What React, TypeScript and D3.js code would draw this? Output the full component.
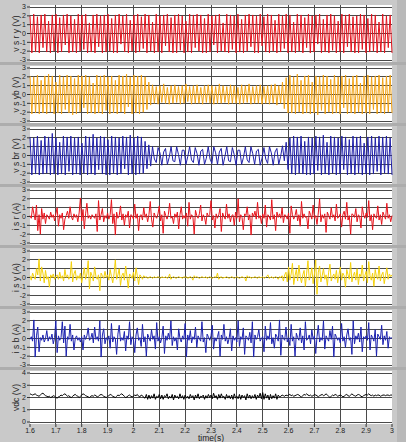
import React from "react";
import * as d3 from "d3";

// Time axis of every trace (seconds); samples are evenly spaced across it.
const T_START = 1.6;
const T_END = 3.0;
const X_TICKS = [1.6, 1.7, 1.8, 1.9, 2.0, 2.1, 2.2, 2.3, 2.4, 2.5, 2.6, 2.7, 2.8, 2.9, 3.0];
const Y_TICKS_PM3 = [3, 2, 1, 0, -1, -2, -3];
const Y_TICKS_VDC = [4, 3, 2, 1, 0];

const LABELS = ["v s r y (V)", "v s yb (V)", "v s br (V)", "i s r (A)", "i s y (A)", "i s b (A)", "vdc (V)"];

// Line voltage r-y
const vsry = [
  2.0,-2.2,2.2,-2.1,1.9,-2.2,2.1,-1.6,2.2,-2.1,
  1.4,-2.2,2.1,-2.0,2.2,-2.2,1.8,-2.1,2.1,-1.3,
  2.2,-2.2,2.0,-2.1,1.6,-2.2,2.2,-2.0,2.1,-1.8,
  2.2,-2.2,1.2,-2.1,2.1,-2.2,2.2,-1.5,2.0,-2.2,
  2.1,-2.1,2.2,-2.0,1.7,-2.2,2.1,-2.2,2.2,-1.2,
  2.0,-2.1,2.2,-2.2,1.5,-2.0,2.1,-2.2,2.2,-2.1,
  1.9,-1.7,2.2,-2.2,2.1,-2.0,1.3,-2.2,2.2,-2.1,
  2.0,-2.2,2.1,-1.4,2.2,-2.1,1.8,-2.2,2.1,-2.2,
  2.2,-1.9,2.0,-2.2,1.4,-2.1,2.2,-2.2,2.1,-1.6,
  2.2,-2.0,2.1,-2.2,1.7,-2.2,2.2,-2.1,2.0,-1.3,
  2.1,-2.2,2.2,-2.0,1.2,-2.1,2.2,-2.2,2.1,-1.8,
  2.0,-2.2,2.2,-2.1,1.6,-2.2,2.1,-2.0,2.2,-1.5,
  2.1,-2.2,2.0,-2.2,2.2,-1.4,1.9,-2.1,2.2,-2.2,
  2.1,-2.0,1.5,-2.2,2.2,-2.1,2.0,-1.7,2.2,-2.2,
  2.1,-2.1,1.3,-2.2,2.2,-2.0,2.1,-2.2,1.8,-1.6,
  2.2,-2.2,2.0,-2.1,2.1,-1.2,2.2,-2.2,1.6,-2.1,
  2.1,-2.2,2.2,-1.9,2.0,-2.2,1.4,-2.1,2.2,-2.2,
  2.1,-1.5,2.2,-2.1,1.9,-2.2,2.0,-2.2,2.2,-1.8,
  2.1,-2.2,1.7,-2.1,2.2,-2.0,2.1,-2.2,1.3,-2.1,
  2.2,-2.2,2.0,-1.6,2.1,-2.2,
];

// Line voltage y-b (sags between ~2.05 s and ~2.59 s)
const vsyb = [
  2.1,-2.2,2.0,-2.1,2.2,-2.2,1.6,-2.1,2.1,-2.2,
  2.3,-2.0,2.1,-2.2,1.4,-2.1,2.2,-2.2,2.0,-1.7,
  2.2,-2.1,2.1,-2.3,1.8,-2.2,2.2,-2.0,2.1,-1.5,
  2.2,-2.2,2.0,-2.1,1.3,-2.2,2.2,-2.1,2.1,-2.2,
  2.2,-1.8,2.0,-2.2,2.1,-2.1,1.6,-2.2,2.2,-2.0,
  2.1,-2.2,2.3,-1.4,2.0,-2.2,2.2,-2.1,2.1,-2.2,
  2.2,-2.0,
  2.0,-1.7,1.4,-1.2,
  1.1,-1.0,0.9,-1.1,1.0,-0.9,1.2,-1.0,0.8,-1.1,
  1.0,-1.0,1.1,-0.9,0.9,-1.1,1.0,-1.0,1.2,-0.8,
  0.9,-1.1,1.0,-1.0,1.1,-1.0,0.8,-1.1,1.0,-0.9,
  1.1,-1.0,1.0,-1.1,0.9,-1.0,1.2,-1.0,1.0,-0.9,
  0.9,-1.1,1.1,-1.0,1.0,-1.0,0.8,-1.1,1.1,-1.0,
  1.0,-0.9,1.2,-1.1,0.9,-1.0,1.0,-1.0,1.1,-1.1,
  0.9,-1.0,1.0,-1.1,1.1,-1.0,1.2,-1.2,1.0,-1.0,
  1.4,-1.6,1.9,-2.1,
  2.2,-2.1,2.0,-2.2,2.3,-2.0,1.6,-2.2,2.1,-2.1,
  2.2,-2.2,1.4,-2.1,2.1,-2.3,2.0,-1.8,2.2,-2.2,
  2.1,-2.0,1.7,-2.2,2.2,-2.1,2.0,-2.2,2.1,-1.5,
  2.2,-2.2,1.8,-2.1,2.1,-2.2,2.2,-2.0,1.3,-2.2,
  2.1,-2.1,2.2,-2.2,2.0,-1.7,2.1,-2.2,2.2,-2.1,
  1.9,-2.2,2.1,-2.0,2.2,-2.1,
];

// Line voltage b-r (sags over the same interval, slower-looking ripple while low)
const vsbr = [
  2.1,-2.2,2.0,-2.1,2.2,-2.2,1.7,-2.1,2.2,-2.0,
  2.1,-2.2,2.5,-2.1,2.0,-2.2,1.5,-2.1,2.2,-2.2,
  2.1,-1.8,2.2,-2.2,2.0,-2.1,2.1,-2.2,1.4,-2.0,
  2.2,-2.2,2.1,-2.1,2.4,-2.2,2.0,-1.6,2.2,-2.1,
  2.1,-2.2,1.8,-2.2,2.2,-2.0,2.1,-2.2,2.0,-2.1,
  2.2,-1.5,2.1,-2.2,2.3,-2.1,2.0,-2.2,2.2,-2.1,
  2.1,-2.0,
  1.6,-1.5,1.2,-1.2,
  1.0,-0.4,-0.8,0.9,0.3,-1.1,0.4,0.8,-1.0,-0.2,1.0,-0.6,-0.7,1.0,0.1,-1.1,0.6,0.6,-1.0,-0.1,
  1.0,-0.5,-0.8,0.9,0.2,-1.1,0.5,0.7,-1.0,-0.3,1.0,-0.4,-0.9,1.0,0.3,-1.0,0.4,0.8,-1.1,-0.1,
  1.0,-0.6,-0.7,0.9,0.1,-1.1,0.6,0.6,-1.0,-0.2,1.0,-0.5,-0.8,1.0,0.2,-1.0,0.5,0.7,-1.1,-0.3,
  0.9,-0.4,-0.9,1.0,0.3,-1.1,0.4,0.8,-1.0,-0.1,1.1,-0.6,
  1.5,-1.6,2.0,-2.1,
  2.2,-2.2,2.1,-2.0,2.2,-2.1,1.6,-2.2,2.1,-2.2,
  2.0,-2.1,2.2,-1.7,2.1,-2.2,2.3,-2.1,1.5,-2.2,
  2.2,-2.0,2.1,-2.2,2.0,-2.1,2.2,-1.6,2.1,-2.2,
  1.8,-2.1,2.2,-2.2,2.1,-2.0,2.2,-2.2,1.4,-2.1,
  2.1,-2.2,2.2,-2.1,2.0,-1.8,2.2,-2.2,2.1,-2.0,
  2.2,-2.1,2.0,-2.2,
];

// Phase current r
const isr = [
  0.1,-0.2,1.1,0.3,-0.4,1.3,-1.6,0.2,-2.0,0.9,-0.3,0.4,-0.8,0.2,0.0,-0.3,0.5,-0.1,0.2,-0.5,
  0.3,1.0,-1.1,0.2,-0.2,0.4,-1.5,-0.3,0.1,0.6,-0.2,1.1,0.0,-0.4,0.3,-0.1,0.2,-0.6,0.4,2.1,
  -0.5,0.8,-1.4,0.3,1.5,-0.2,0.1,-0.3,0.2,0.0,-0.2,0.3,-1.7,1.8,-0.4,0.2,0.9,-0.6,0.1,-0.2,
  0.4,-0.3,0.2,1.9,-0.8,0.3,-2.1,0.5,-0.2,0.1,1.2,-0.4,0.3,-1.0,0.2,-0.1,0.6,-1.3,0.2,0.1,
  -0.3,1.4,-0.2,0.3,-1.6,0.1,0.2,-0.4,1.0,-0.1,0.3,-0.6,0.2,1.7,-0.3,-1.2,0.4,0.0,-0.2,0.3,
  1.2,-0.5,0.2,-1.9,0.6,0.1,-0.3,0.2,1.5,-0.2,0.0,-0.8,0.3,-0.1,0.5,-1.4,0.2,1.1,-0.3,0.1,
  -0.2,0.4,-1.1,1.6,-0.3,0.2,0.0,-2.0,0.7,0.1,-0.2,0.3,1.3,-0.5,0.2,-0.1,-0.9,0.4,0.0,0.2,
  1.8,-0.4,0.1,-1.3,0.3,-0.2,0.2,0.9,-1.7,0.4,0.0,-0.3,1.4,-0.2,0.3,-0.6,0.1,0.2,-1.0,0.5,
  -0.2,2.0,-0.6,0.2,-0.1,-1.5,0.3,0.1,1.1,-0.4,0.2,-2.1,0.4,0.0,0.6,-0.3,1.6,-0.2,0.1,-0.8,
  0.3,-0.2,1.3,-1.2,0.2,0.0,-0.4,1.9,-0.3,0.2,-1.6,0.5,-0.1,0.3,-0.2,1.0,-0.7,0.2,0.1,-0.3,
  0.4,-1.9,1.2,0.2,-0.3,0.1,0.8,-0.5,0.2,-1.1,1.7,-0.2,0.3,-0.1,0.0,-1.4,0.6,0.2,-0.3,1.3,
  -0.2,0.1,-0.9,0.4,2.0,-0.6,0.2,-0.2,0.3,-1.8,0.5,0.1,-0.3,1.0,-0.1,0.2,-0.5,1.4,-0.2,0.0,
  0.3,-1.2,0.2,0.6,-0.3,1.6,-0.4,0.1,-2.0,0.3,0.2,-0.1,0.9,-0.6,0.2,0.0,-1.3,1.1,0.2,-0.2,
  0.4,-0.1,1.8,-0.5,0.2,-1.5,0.3,0.0,-0.2,1.2,-0.4,0.2,-0.9,0.5,0.1,-0.3,1.5,-0.2,0.2,-0.6,0.1,
];

// Phase current y (almost idle while the y-b and b-r voltages sag)
const isy = [
  0.2,-0.3,0.5,0.1,-0.2,1.0,0.3,2.1,-0.4,1.2,0.5,-0.6,0.8,-0.2,0.1,-1.1,0.3,0.0,0.4,-0.2,
  0.1,0.3,-0.2,0.6,-0.1,0.2,-0.4,0.9,0.0,0.3,-0.2,0.1,1.8,-0.5,0.4,0.8,-0.3,0.2,-0.1,0.5,
  -0.6,0.2,1.1,-0.2,0.4,1.9,-1.3,0.6,0.2,-0.4,1.2,0.1,-0.2,0.3,-1.5,0.5,0.2,-0.1,0.7,0.0,
  0.3,-0.3,0.9,0.1,-0.6,0.4,2.0,-0.2,0.3,1.0,-0.9,0.2,0.5,-0.3,1.3,0.1,-1.2,0.4,0.2,-0.1,
  0.6,-0.4,1.1,0.2,-0.8,0.3,0.1,-0.2,0.2,0.0,0.1,-0.1,0.0,0.1,0.0,-0.1,0.1,0.0,0.0,0.1,
  0.0,-0.1,0.1,0.0,0.0,0.1,-0.1,0.0,0.4,-0.2,0.0,0.1,0.0,-0.1,0.0,0.1,0.0,0.0,-0.1,0.1,
  0.0,0.1,-0.1,0.0,0.1,0.0,-0.3,0.2,0.0,0.1,0.0,-0.1,0.0,0.1,0.0,0.0,0.1,-0.1,0.0,0.1,
  0.0,-0.1,0.0,0.1,0.0,0.5,-0.2,0.0,0.1,-0.1,0.0,0.0,0.1,0.0,-0.1,0.0,0.1,0.0,-0.1,0.0,
  0.1,0.0,-0.1,0.0,0.1,0.0,0.0,-0.4,0.2,0.0,0.1,-0.1,0.0,0.0,0.1,0.0,-0.1,0.1,0.0,0.0,
  0.1,-0.1,0.0,0.1,0.3,-0.1,0.0,0.1,-0.1,0.0,0.1,0.0,-0.2,0.1,0.0,0.2,-0.4,0.3,0.6,-0.5,
  1.2,-0.3,0.4,1.6,-0.8,0.2,0.9,-0.4,1.4,0.1,-0.6,0.3,0.8,-1.0,0.5,1.9,-0.3,0.2,1.1,-0.7,
  0.4,2.0,-1.9,0.6,1.3,-0.5,0.2,1.0,-0.2,0.3,-0.9,0.6,1.5,-0.4,0.1,0.4,-0.2,0.8,-0.6,0.3,
  1.2,-0.3,0.5,0.2,-1.1,0.9,0.3,-0.2,1.7,-0.5,0.2,0.6,-0.3,1.0,-0.8,0.4,0.1,1.4,-0.4,0.2,
  0.7,-0.6,1.8,0.2,-0.3,0.5,-1.0,0.9,0.1,-0.2,1.3,-0.4,0.3,0.6,-0.7,0.2,1.1,-0.2,0.4,0.1,0.3,
];

// Phase current b
const isb = [
  -0.1,0.2,-0.3,2.1,-2.1,0.3,1.3,-1.5,0.1,-0.2,0.4,-0.4,0.0,0.9,-0.3,0.2,-0.1,0.5,-0.6,0.1,
  2.0,-1.6,0.3,-0.2,0.1,1.9,-0.5,1.4,-2.0,0.2,-0.1,1.6,-0.3,0.4,-1.3,0.0,0.3,-0.2,0.1,-0.4,
  0.2,-1.3,0.4,-0.1,0.3,1.2,-0.2,0.0,0.6,-0.5,1.3,-0.1,0.2,-0.3,2.0,-2.1,0.4,1.1,-0.6,0.1,
  -0.2,0.3,-1.1,1.7,-0.4,0.2,0.0,-1.8,0.5,1.5,-0.3,0.1,-0.2,0.8,-1.4,0.3,-0.1,1.9,-0.7,0.2,
  0.0,-1.6,0.4,1.2,-0.2,0.1,-0.9,1.6,-0.4,0.2,-2.0,0.5,0.1,-0.3,1.0,-0.1,0.3,-1.2,1.8,-0.3,
  0.2,-0.5,0.1,1.4,-1.7,0.3,-0.2,0.6,-0.1,2.0,-0.8,0.2,-0.3,0.1,-1.3,1.1,0.0,-0.4,0.3,-0.1,
  1.7,-2.1,0.4,-0.2,0.9,-0.5,0.2,-0.1,1.3,-1.0,0.3,0.0,-0.3,1.9,-0.4,0.1,-1.6,0.5,0.2,-0.2,
  0.3,1.5,-1.2,0.1,-0.3,0.2,0.8,-2.0,0.4,-0.1,1.6,-0.3,0.2,-0.6,0.0,1.1,-1.4,0.3,-0.2,0.1,
  -0.4,2.0,-0.9,0.2,-0.1,1.2,-1.8,0.3,0.1,-0.2,0.7,-0.5,1.9,-2.1,0.4,-0.1,0.2,1.0,-0.3,0.0,
  0.2,-1.5,1.4,-0.2,0.3,-0.1,1.8,-0.6,0.1,-1.1,0.5,0.2,-0.3,2.1,-1.9,0.4,0.0,-0.2,1.3,-0.4,
  0.1,-0.8,1.6,-0.3,0.2,-2.0,0.6,0.1,-0.2,1.2,-0.5,0.3,-1.3,1.9,-0.2,0.0,0.4,-0.6,1.0,-0.1,
  0.3,-1.7,0.2,1.5,-0.4,0.1,-0.2,2.0,-1.2,0.3,0.0,-0.3,0.9,-0.1,1.4,-2.1,0.5,0.2,-0.2,0.1,
  -0.5,1.7,-0.3,0.2,-1.0,0.4,1.1,-0.2,0.1,-1.8,2.0,-0.6,0.3,-0.1,0.6,-0.4,1.3,-1.5,0.2,0.0,
  0.3,-0.2,1.8,-1.3,0.4,0.1,-0.3,1.0,-2.0,0.5,0.2,-0.1,1.5,-0.7,0.3,-0.2,0.8,-1.1,0.2,0.0,0.1,
];

// DC-link voltage
const vdc = [
  2.3,2.25,2.2,2.25,2.3,2.2,2.15,2.1,2.2,2.3,2.35,2.25,2.15,2.1,2.05,2.1,2.0,2.05,2.15,2.1,
  2.0,1.95,2.05,2.1,2.2,2.15,2.25,2.3,2.2,2.1,2.15,2.05,2.0,2.1,2.2,2.25,2.15,2.1,2.0,2.1,
  2.2,2.3,2.25,2.15,2.1,2.05,2.0,2.1,2.15,2.1,2.2,2.15,2.05,2.1,2.2,2.25,2.2,2.1,2.05,2.0,
  2.1,2.15,2.25,2.2,2.1,2.05,2.0,2.1,2.2,2.15,2.25,2.3,2.2,2.1,2.0,2.05,2.15,2.2,2.1,2.05,
  2.1,2.2,2.15,2.25,2.1,2.05,2.2,2.15,2.0,1.95,2.25,1.85,2.2,1.9,2.15,1.95,2.3,1.85,2.1,2.0,
  2.25,1.9,2.2,1.85,2.15,2.05,2.3,1.9,2.1,1.95,2.25,1.8,2.2,2.0,2.1,1.9,2.3,1.95,2.15,1.85,
  2.2,1.95,2.1,1.9,2.25,2.0,2.15,1.8,2.2,1.95,2.3,1.9,2.1,2.05,2.2,1.85,2.15,1.95,2.25,2.0,
  2.2,1.9,2.35,2.0,2.15,1.85,2.25,1.95,2.3,2.0,2.1,1.85,2.25,1.95,2.15,1.9,2.2,1.85,2.3,1.95,
  2.1,1.9,2.25,1.85,2.2,2.0,2.15,1.8,2.3,1.95,2.2,1.9,2.15,1.95,2.25,1.85,2.2,2.0,2.35,1.9,
  2.4,1.85,2.3,1.95,2.2,1.8,2.25,1.9,2.15,1.95,2.3,1.85,2.2,2.05,2.1,2.2,2.15,2.1,2.2,2.15,
  2.2,2.25,2.15,2.2,2.1,2.15,2.2,2.25,2.2,2.1,2.05,2.15,2.25,2.2,2.3,2.2,2.15,2.2,2.1,2.15,
  2.25,2.2,2.15,2.05,2.15,2.2,2.25,2.15,2.2,2.3,2.2,2.1,2.0,2.1,2.2,2.15,2.25,2.2,2.1,2.15,
  2.2,2.15,2.05,2.1,2.2,2.25,2.15,2.1,2.2,2.3,2.2,2.15,2.1,2.2,2.25,2.2,2.1,2.05,2.15,2.2,
  2.25,2.2,2.3,2.2,2.15,2.2,2.1,2.2,2.15,2.2,2.2,2.1,2.15,2.2,2.2,2.15,2.2,2.2,2.15,2.2,2.2,
];

const SERIES = [vsry, vsyb, vsbr, isr, isy, isb, vdc];
const COLORS = ["#e3141e", "#f2a316", "#1f1faa", "#e8141c", "#f4d10c", "#1c22b0", "#000000"];

const W = 406;
const H = 442;
const PLOT_L = 30;
const PLOT_R = 392;
const PITCH = 61;
const FIRST_TOP = 7;
const FONT = "'Liberation Sans', Arial, sans-serif";

function sampleTimes(n: number): number[] {
  return d3.range(n).map((i) => T_START + ((T_END - T_START) * i) / (n - 1));
}

function fmt(v: number): string {
  return String(Math.round(v * 10) / 10);
}

export default function App() {
  const x = d3.scaleLinear().domain([T_START, T_END]).range([PLOT_L, PLOT_R]);

  const panels = SERIES.map((data, i) => {
    const isVdc = i === 6;
    const top = FIRST_TOP + PITCH * i;
    const y = isVdc
      ? d3.scaleLinear().domain([0, 4]).range([422, 373])
      : d3.scaleLinear().domain([-3, 3]).range([top + 53, top]);
    const ticks = isVdc ? Y_TICKS_VDC : Y_TICKS_PM3;
    const boxTop = top - 2;
    const boxBottom = isVdc ? 424 : top + 55;
    const t = sampleTimes(data.length);
    const line = d3
      .line<number>()
      .x((_, k) => x(t[k]))
      .y((d) => y(d));
    return { i, y, ticks, boxTop, boxBottom, path: line(data) || "", color: COLORS[i], label: LABELS[i] };
  });

  return (
    <svg
      width={W}
      height={H}
      style={{ position: "absolute", left: 0, top: 0, display: "block" }}
      fontFamily={FONT}
    >
      <rect x={0} y={0} width={W} height={H} fill="#c9c9c9" />
      <rect x={397} y={0} width={W - 397} height={H} fill="#b9b9b9" />

      {panels.map((p) => (
        <g key={p.i}>
          {p.i > 0 && (
            <rect x={0} y={p.boxTop - 4} width={W} height={3} fill="#adadad" />
          )}
          <rect
            x={PLOT_L}
            y={p.boxTop}
            width={PLOT_R - PLOT_L}
            height={p.boxBottom - p.boxTop}
            fill="#ffffff"
          />
          {/* grid */}
          {X_TICKS.slice(1, -1).map((v) => (
            <line
              key={"gx" + v}
              x1={x(v)}
              x2={x(v)}
              y1={p.boxTop}
              y2={p.boxBottom}
              stroke="#4a4a4a"
              strokeWidth={1}
              shapeRendering="crispEdges"
            />
          ))}
          {p.ticks.map((v) => (
            <line
              key={"gy" + v}
              x1={PLOT_L}
              x2={PLOT_R}
              y1={p.y(v)}
              y2={p.y(v)}
              stroke="#4a4a4a"
              strokeWidth={1}
              shapeRendering="crispEdges"
            />
          ))}
          {/* trace */}
          <path d={p.path} fill="none" stroke={p.color} strokeWidth={1} strokeLinejoin="round" />
          {/* y axis ticks */}
          {p.ticks.map((v) => (
            <g key={"ty" + v}>
              <line x1={27} x2={30} y1={p.y(v)} y2={p.y(v)} stroke="#333" strokeWidth={1} />
              <text x={26} y={p.y(v)} dy="0.35em" textAnchor="end" fontSize={7} fill="#222">
                {v}
              </text>
            </g>
          ))}
          <text
            transform={`translate(16,${(p.boxTop + p.boxBottom) / 2}) rotate(-90)`}
            textAnchor="middle"
            dy="0.35em"
            fontSize={8.5}
            fill="#222"
          >
            {p.label}
          </text>
        </g>
      ))}

      {/* x axis */}
      {X_TICKS.map((v) => (
        <g key={"tx" + v}>
          <line x1={x(v)} x2={x(v)} y1={424} y2={427} stroke="#333" strokeWidth={1} />
          <text x={x(v)} y={431} dy="0.35em" textAnchor="middle" fontSize={7} fill="#222">
            {fmt(v)}
          </text>
        </g>
      ))}
      <text x={(PLOT_L + PLOT_R) / 2} y={438} dy="0.35em" textAnchor="middle" fontSize={8.5} fill="#222">
        time(s)
      </text>
    </svg>
  );
}
